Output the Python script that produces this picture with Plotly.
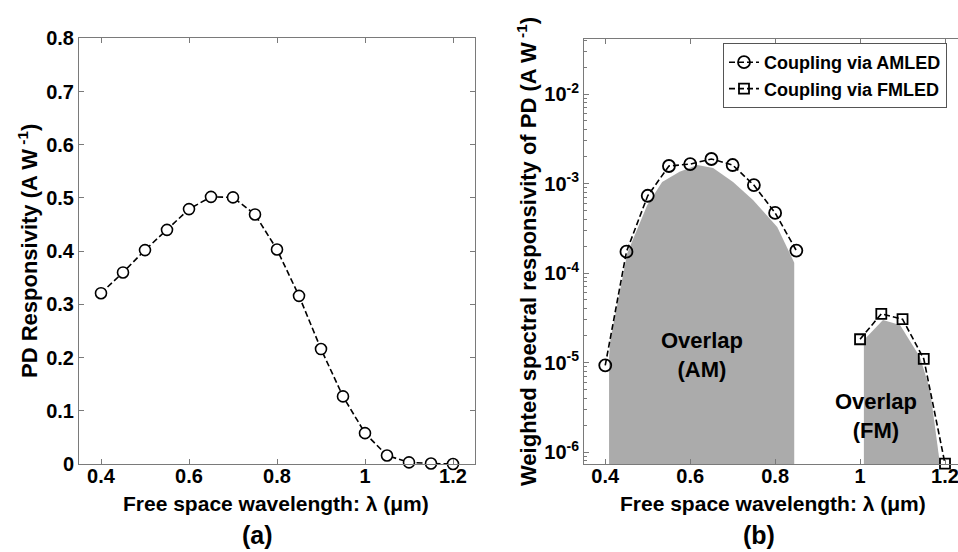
import plotly.graph_objects as go

# ---------------- data ----------------
# Panel (a): PD responsivity
wl_a = [0.40, 0.45, 0.50, 0.55, 0.60, 0.65, 0.70, 0.75, 0.80, 0.85,
        0.90, 0.95, 1.00, 1.05, 1.10, 1.15, 1.20]
resp_a = [0.321, 0.360, 0.402, 0.440, 0.479, 0.502, 0.501, 0.469, 0.403, 0.316,
          0.216, 0.127, 0.058, 0.016, 0.003, 0.001, 0.000]

# Panel (b): weighted spectral responsivity
wl_am = [0.40, 0.45, 0.50, 0.55, 0.60, 0.65, 0.70, 0.75, 0.80, 0.85]
resp_am = [9.3e-6, 1.73e-4, 7.3e-4, 1.57e-3, 1.65e-3, 1.88e-3, 1.61e-3, 9.6e-4, 4.7e-4, 1.78e-4]

wl_fm = [1.00, 1.05, 1.10, 1.15, 1.20]
resp_fm = [1.82e-5, 3.5e-5, 3.05e-5, 1.1e-5, 7.4e-7]

# overlap (shaded) boundaries
ov_am_x = [0.409, 0.412, 0.452, 0.499, 0.534, 0.575, 0.617, 0.654, 0.701, 0.748, 0.805, 0.842, 0.845]
ov_am_y = [1.15e-5, 1.78e-5, 1.67e-4, 5.75e-4, 1.04e-3, 1.35e-3, 1.61e-3, 1.49e-3, 1.04e-3, 6.55e-4, 3.27e-4, 1.4e-4, 1.3e-4]
ov_fm_x = [1.009, 1.054, 1.094, 1.141, 1.165, 1.188]
ov_fm_y = [1.78e-5, 2.98e-5, 2.63e-5, 1.15e-5, 4.9e-6, 7.4e-7]

xticks = [0.4, 0.6, 0.8, 1.0, 1.2]
xticktext = ["0.4", "0.6", "0.8", "1", "1.2"]
yticks_a = [0, 0.1, 0.2, 0.3, 0.4, 0.5, 0.6, 0.7, 0.8]
yticktext_a = ["0", "0.1", "0.2", "0.3", "0.4", "0.5", "0.6", "0.7", "0.8"]
yticks_b = [1e-6, 1e-5, 1e-4, 1e-3, 1e-2]
yticktext_b = ["10<sup>-6</sup>", "10<sup>-5</sup>", "10<sup>-4</sup>", "10<sup>-3</sup>", "10<sup>-2</sup>"]
decades_b = [1e-7, 1e-6, 1e-5, 1e-4, 1e-3, 1e-2]
minor_digits = [2, 3, 4, 5, 6, 7, 8, 9]

legend_names = ["Coupling via AMLED", "Coupling via FMLED"]

# ---------------- figure ----------------
W, H = 958, 552
FONT = "Liberation Sans, Arial, sans-serif"
AX = "#7a7a7a"
GRAY = "#ababab"

ylog_range = [-6.134, -1.385]
base_b = 10 ** (ylog_range[0] - 0.5)
minor_b = [d * m for d in decades_b for m in minor_digits]

fig = go.Figure()

# Panel (a)
fig.add_trace(go.Scatter(
    x=wl_a, y=resp_a, mode="lines+markers", showlegend=False,
    line=dict(color="black", width=1.6, dash="6px,3px"),
    marker=dict(symbol="circle", size=11, color="white", line=dict(color="black", width=1.6)),
    cliponaxis=False, xaxis="x", yaxis="y"))

# Panel (b) fills
fig.add_trace(go.Scatter(
    x=[ov_am_x[0]] + ov_am_x + [ov_am_x[-1]],
    y=[base_b] + ov_am_y + [base_b],
    mode="none", fill="toself", fillcolor=GRAY, showlegend=False,
    hoverinfo="skip", xaxis="x2", yaxis="y2"))
fig.add_trace(go.Scatter(
    x=[ov_fm_x[0]] + ov_fm_x + [ov_fm_x[-1]],
    y=[base_b] + ov_fm_y + [base_b],
    mode="none", fill="toself", fillcolor=GRAY, showlegend=False,
    hoverinfo="skip", xaxis="x2", yaxis="y2"))

# Panel (b) lines
fig.add_trace(go.Scatter(
    x=wl_am, y=resp_am, mode="lines+markers", name=legend_names[0],
    line=dict(color="black", width=1.6, dash="6px,3px"),
    marker=dict(symbol="circle-open", size=12, color="black", line=dict(width=1.8)),
    xaxis="x2", yaxis="y2"))
fig.add_trace(go.Scatter(
    x=wl_fm, y=resp_fm, mode="lines+markers", name=legend_names[1],
    line=dict(color="black", width=1.6, dash="6px,3px"),
    marker=dict(symbol="square-open", size=10, color="black", line=dict(width=1.8)),
    cliponaxis=False, xaxis="x2", yaxis="y2"))

tickfont = dict(family=FONT, size=20, color="black", weight="bold")

def px_x(p):
    return p / W

def px_y(p):
    return 1 - p / H

common = dict(showgrid=False, zeroline=False, showline=True, linecolor=AX, linewidth=1,
              ticks="inside", ticklen=5, tickcolor=AX, tickwidth=1, tickfont=tickfont,
              automargin=False, ticklabeloverflow="allow")

fig.update_layout(
    width=W, height=H,
    margin=dict(l=0, r=0, t=0, b=0),
    paper_bgcolor="white", plot_bgcolor="white",
    font=dict(family=FONT, color="black"),
    xaxis=dict(domain=[px_x(79), px_x(475)], range=[0.35, 1.25], tickvals=xticks,
               ticktext=xticktext, mirror="ticks", anchor="y", ticklabelstandoff=-6, **common),
    yaxis=dict(domain=[px_y(464), px_y(38.3)], range=[0, 0.8], tickvals=yticks_a,
               ticktext=yticktext_a, mirror="ticks", anchor="x", **common),
    xaxis2=dict(domain=[px_x(584), 1.0], range=[0.35, 1.2306], tickvals=xticks,
                ticktext=xticktext, mirror="ticks", anchor="y2", ticklabelstandoff=-6, **common),
    yaxis2=dict(domain=[px_y(464), px_y(39)], type="log", range=ylog_range,
                tickvals=yticks_b, ticktext=yticktext_b, mirror=False, anchor="x2",
                minor=dict(ticks="inside", ticklen=3, tickcolor=AX, showgrid=False,
                           tickvals=minor_b),
                **common),
    legend=dict(x=px_x(723), y=px_y(43), xanchor="left", yanchor="top",
                bgcolor="white", bordercolor="#555555", borderwidth=1,
                font=dict(family=FONT, size=18, color="black", weight="bold"),
                itemwidth=30, tracegroupgap=0),
)

def ann(text, x, y, size, angle=0):
    fig.add_annotation(text=text, x=px_x(x), y=px_y(y), xref="paper", yref="paper",
                       showarrow=False, textangle=angle, xanchor="center", yanchor="middle",
                       font=dict(family=FONT, size=size, color="black", weight="bold"))

xtitle = "Free space wavelength: λ (μm)"
ann(xtitle, 276, 503, 21)
ann(xtitle, 773, 503, 21)
ann("PD Responsivity (A W<sup> -1</sup>)", 28, 251, 22, angle=-90)
ann("Weighted spectral responsivity of PD (A W<sup> -1</sup>)", 527, 252, 22, angle=-90)
ann("(a)", 257, 535, 25)
ann("(b)", 759, 535, 25)
ann("Overlap<br>(AM)", 702, 355, 22)
ann("Overlap<br>(FM)", 876, 416, 22)

fig.write_html("out.html", config={"displayModeBar": False},
               post_script="document.body.style.margin='0';")
